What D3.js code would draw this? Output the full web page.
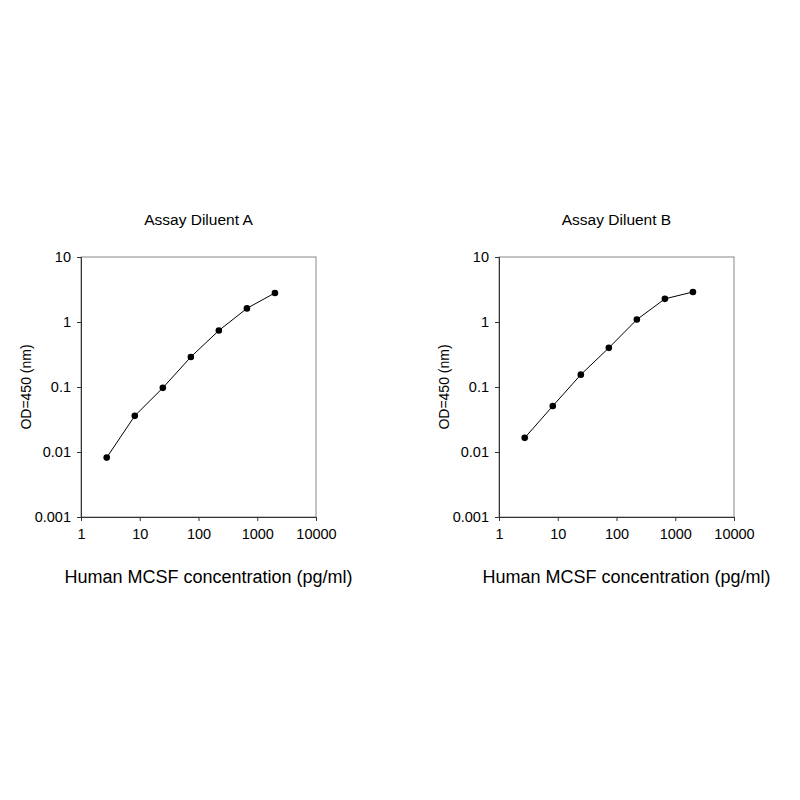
<!DOCTYPE html>
<html><head><meta charset="utf-8">
<script src="https://cdn.jsdelivr.net/npm/d3@7"></script>
<style>body{margin:0;background:#fff}</style>
</head><body><div id="chart"></div>
<script>
const conc = [2.74, 8.23, 24.7, 74.1, 222, 667, 2000];
const odA = [0.0082, 0.036, 0.097, 0.29, 0.74, 1.62, 2.8];
const odB = [0.0165, 0.051, 0.155, 0.40, 1.09, 2.27, 2.9];
const xTicks = [1, 10, 100, 1000, 10000];
const yTicks = [0.001, 0.01, 0.1, 1, 10];

const svg = d3.select("#chart").append("svg")
    .attr("width", 800).attr("height", 800)
    .style("font-family", "Liberation Sans, Arial, sans-serif");

function panel(left, title, od) {
    const w = 235, h = 260, top = 257;
    const g = svg.append("g").attr("transform", "translate(" + left + "," + top + ")");
    const x = d3.scaleLog().domain([1, 10000]).range([0, w]);
    const y = d3.scaleLog().domain([0.001, 10]).range([h, 0]);

    g.append("rect").attr("width", w).attr("height", h)
        .attr("fill", "none").attr("stroke", "#888");

    const xa = g.append("g").attr("transform", "translate(0," + h + ")")
        .call(d3.axisBottom(x).tickValues(xTicks).tickFormat(d3.format("d")).tickSize(4).tickPadding(8));
    const ya = g.append("g")
        .call(d3.axisLeft(y).tickValues(yTicks).tickFormat(d => String(d)).tickSize(4).tickPadding(6));
    [xa, ya].forEach(a => {
        a.select(".domain").attr("stroke", "#333");
        a.selectAll("line").attr("stroke", "#333");
        a.selectAll("text").attr("font-size", 14.5).attr("fill", "#000").attr("font-family", "Liberation Sans, Arial, sans-serif");
    });

    const line = d3.line().x((d, i) => x(conc[i])).y(d => y(d));
    g.append("path").datum(od).attr("d", line)
        .attr("fill", "none").attr("stroke", "#000").attr("stroke-width", 1);
    g.selectAll("circle").data(od).join("circle")
        .attr("cx", (d, i) => x(conc[i])).attr("cy", d => y(d)).attr("r", 3.3).attr("fill", "#000");

    g.append("text").attr("x", w / 2).attr("y", -32).attr("text-anchor", "middle")
        .attr("font-size", 15.5).text(title);
    g.append("text").attr("transform", "translate(-50," + (h / 2) + ") rotate(-90)")
        .attr("text-anchor", "middle").attr("font-size", 14).text("OD=450 (nm)");
    g.append("text").attr("x", w / 2 + 10).attr("y", h + 66).attr("text-anchor", "middle")
        .attr("font-size", 18).text("Human MCSF concentration (pg/ml)");
}

panel(81, "Assay Diluent A", odA);
panel(499, "Assay Diluent B", odB);
</script></body></html>
